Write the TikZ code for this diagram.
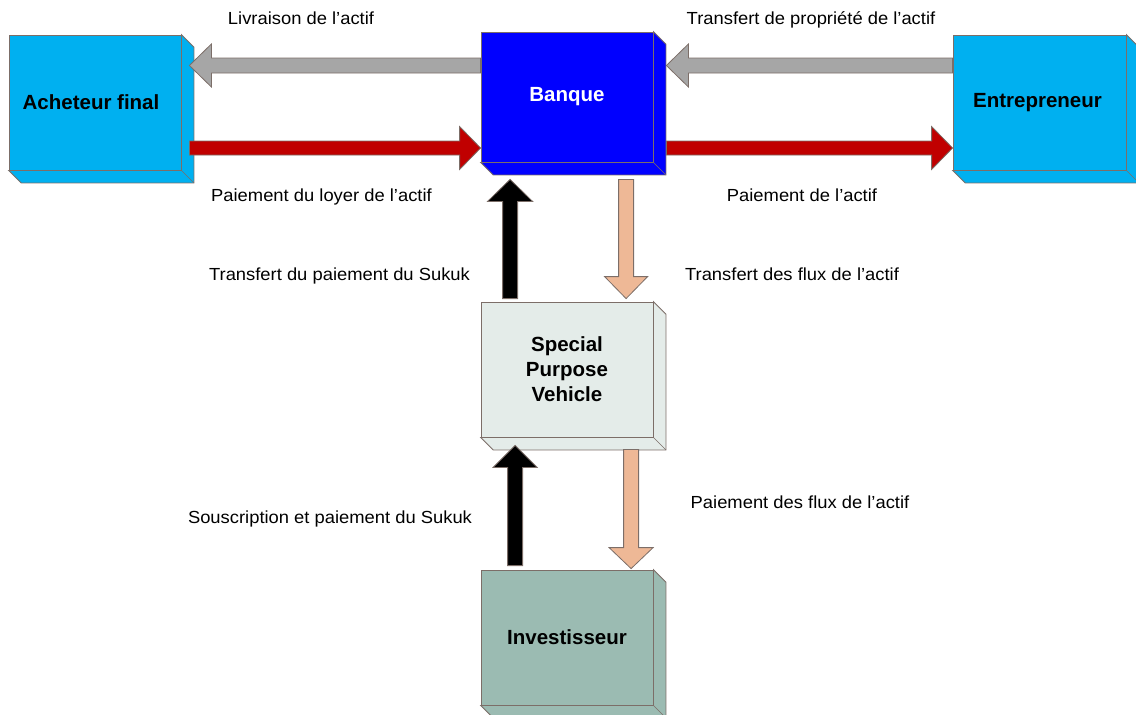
\documentclass[tikz,border=0pt]{standalone}
\usepackage{fontspec}
\setmainfont{Liberation Sans}
\newfontfamily\lblfont[FakeStretch=1.05]{Liberation Sans}
\usetikzlibrary{calc}
\definecolor{cyanbox}{HTML}{00B0F0}
\definecolor{bluebox}{HTML}{0000FF}
\definecolor{spvbox}{HTML}{E4ECE9}
\definecolor{invbox}{HTML}{9BBBB2}
\definecolor{edgec}{HTML}{7C6E68}
\definecolor{grayarr}{HTML}{A6A6A6}
\definecolor{redarr}{HTML}{C00000}
\definecolor{salarr}{HTML}{EEB896}
\newcommand\depthbox[2]{%
  \filldraw[fill=#2, draw=edgec, line width=0.8pt]
    (#1.north east) -- ++(12.5,12.5) -- ($(#1.south east)+(12.5,12.5)$)
    -- ($(#1.south west)+(12.5,12.5)$) -- (#1.south west) -- (#1.south east) -- cycle;
  \draw[edgec, line width=0.6pt] (#1.south east) -- ++(12.5,12.5);}
\newcommand\blockarrow[6]{%
  \coordinate (tmpB) at ($(#3)!#6!(#2)$);
  \filldraw[#1, draw=edgec, line width=0.8pt]
    ($(#2)!#4!90:(#3)$) -- ($(tmpB)!#4!-90:(#2)$) -- ($(tmpB)!#5!-90:(#2)$) -- (#3)
    -- ($(tmpB)!#5!90:(#2)$) -- ($(tmpB)!#4!90:(#2)$) -- ($(#2)!#4!-90:(#3)$) -- cycle;}
\begin{document}
\begin{tikzpicture}[x=1pt,y=-1pt,
  box/.style={draw=edgec, line width=0.8pt, minimum width=172pt, minimum height=135pt,
    inner sep=0pt, align=center, font=\bfseries\fontsize{20.5}{25}\selectfont},
  lbl/.style={anchor=base, inner sep=0pt, font=\lblfont\fontsize{17.5}{20}\selectfont}]
\useasboundingbox (0,0) rectangle (1136,715);
% boxes
\node[box, fill=cyanbox] (ach) at (95,102.5) {\hspace*{-8pt}Acheteur final};
\node[box, fill=bluebox, minimum height=130pt, text=white] (ban) at (567,97) {Banque};
\node[box, fill=cyanbox, minimum width=173pt] (ent) at (1039.5,102.5) {\hspace*{-4pt}Entrepreneur};
\node[box, fill=spvbox] (spv) at (567,369.5) {Special\\Purpose\\Vehicle};
\node[box, fill=invbox] (inv) at (567,637.5) {Investisseur};
\depthbox{ach}{cyanbox}
\depthbox{ban}{bluebox}
\depthbox{ent}{cyanbox}
\depthbox{spv}{spvbox}
\depthbox{inv}{invbox}
% arrow end points
\coordinate (yT) at (0,65.5);
\coordinate (yB) at (0,148);
\coordinate (a1s) at (ban.west |- yT);
\coordinate (a1e) at ($(ach.east |- yT)+(8,0)$);
\coordinate (a2s) at ($(ach.east |- yB)+(8,0)$);
\coordinate (a2e) at (ban.west |- yB);
\coordinate (a3s) at (ent.west |- yT);
\coordinate (a3e) at ($(ban.east |- yT)+(13,0)$);
\coordinate (a4s) at ($(ban.east |- yB)+(13,0)$);
\coordinate (a4e) at (ent.west |- yB);
\coordinate (a5s) at ($(spv.north west)+(29.5,-3)$);
\coordinate (a5e) at ($(ban.south west)+(29.5,17)$);
\coordinate (a6s) at ($(ban.south west)+(145.5,17)$);
\coordinate (a6e) at ($(spv.north west)+(145.5,-3)$);
\coordinate (a7s) at ($(inv.north west)+(34.5,-4)$);
\coordinate (a7e) at ($(spv.south west)+(34.5,8)$);
\coordinate (a8s) at ($(spv.south west)+(150.5,12)$);
\coordinate (a8e) at ($(inv.north west)+(150.5,-1)$);
% arrows
\blockarrow{fill=grayarr}{a1s}{a1e}{7.5pt}{21.5pt}{22pt}
\blockarrow{fill=redarr}{a2s}{a2e}{7pt}{21.5pt}{21pt}
\blockarrow{fill=grayarr}{a3s}{a3e}{7.5pt}{21.5pt}{22pt}
\blockarrow{fill=redarr}{a4s}{a4e}{7pt}{21.5pt}{21pt}
\blockarrow{fill=black}{a5s}{a5e}{7.5pt}{22.5pt}{22pt}
\blockarrow{fill=salarr}{a6s}{a6e}{7.5pt}{21.5pt}{22pt}
\blockarrow{fill=black}{a7s}{a7e}{7.5pt}{22pt}{22pt}
\blockarrow{fill=salarr}{a8s}{a8e}{7.5pt}{22pt}{21pt}
% labels
\node[lbl] (l1) at (301,24) {Livraison de l’actif};
\node[lbl] (l2) at (811,24) {Transfert de propriété de l’actif};
\node[lbl] (l3) at (321.5,201.5) {Paiement du loyer de l’actif};
\node[lbl] (l4) at (802,201.5) {Paiement de l’actif};
\node[lbl] (l5) at (339.5,280) {Transfert du paiement du Sukuk};
\node[lbl] (l6) at (792,280) {Transfert des flux de l’actif};
\node[lbl] (l7) at (330,523) {Souscription et paiement du Sukuk};
\node[lbl] (l8) at (800,508) {Paiement des flux de l’actif};
\end{tikzpicture}
\end{document}
